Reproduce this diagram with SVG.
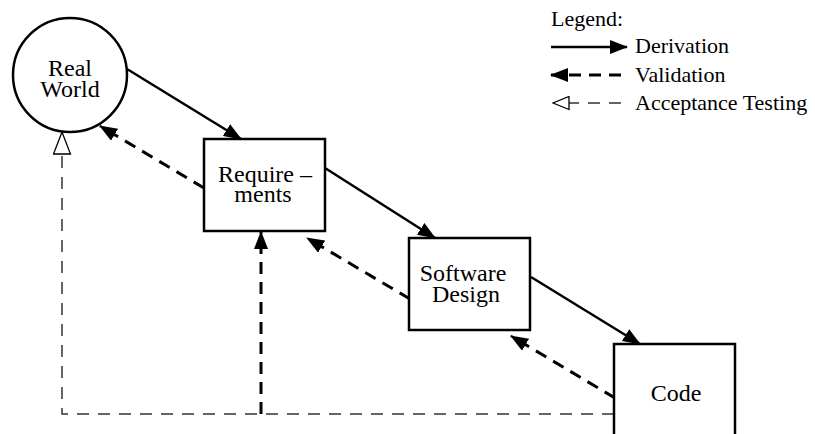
<svg xmlns="http://www.w3.org/2000/svg" width="815" height="434" viewBox="0 0 815 434">
<style>
  .node { fill: #fff; stroke: #000; stroke-width: 2.5; }
  .lbl { font-family: "Liberation Serif", "Times New Roman", serif; font-size: 24px; fill: #000; text-anchor: middle; }
  .leg { font-family: "Liberation Serif", "Times New Roman", serif; font-size: 22px; fill: #000; }
  .deriv { fill: none; stroke: #000; stroke-width: 2.5; }
  .valid { fill: none; stroke: #000; stroke-width: 3; stroke-dasharray: 12 8; }
  .accept { fill: none; stroke: #333; stroke-width: 1.5; stroke-dasharray: 12 9; }
</style>
<defs>
  <marker id="head" viewBox="0 0 18 14" refX="17" refY="7" markerWidth="18" markerHeight="14" markerUnits="userSpaceOnUse" orient="auto">
    <path d="M0,0 L18,7 L0,14 z" fill="#000"/>
  </marker>
  <marker id="open" viewBox="0 0 24 19" refX="23" refY="9.5" markerWidth="24" markerHeight="19" markerUnits="userSpaceOnUse" orient="auto">
    <path d="M1,1 L23,9.5 L1,18 z" fill="#fff" stroke="#000" stroke-width="1.3"/>
  </marker>
  <marker id="open-small" viewBox="0 0 18 15" refX="17" refY="7.5" markerWidth="18" markerHeight="15" markerUnits="userSpaceOnUse" orient="auto">
    <path d="M1,1 L17,7.5 L1,14 z" fill="#fff" stroke="#000" stroke-width="1.3"/>
  </marker>
</defs>

<g id="connectors">
  <line class="deriv" x1="127" y1="69" x2="241" y2="139" marker-end="url(#head)"/>
  <line class="deriv" x1="325" y1="168" x2="435" y2="238" marker-end="url(#head)"/>
  <line class="deriv" x1="531" y1="277" x2="640" y2="344" marker-end="url(#head)"/>
  <line class="valid" x1="204" y1="188" x2="100" y2="126" marker-end="url(#head)"/>
  <line class="valid" x1="410" y1="299" x2="307" y2="238" marker-end="url(#head)"/>
  <line class="valid" x1="615" y1="398" x2="511" y2="336" marker-end="url(#head)"/>
  <line class="valid" x1="261" y1="414" x2="261" y2="232" marker-end="url(#head)"/>
  <path class="accept" d="M614,414 H62 V132" marker-end="url(#open)"/>
</g>

<g id="real-world">
  <circle class="node" cx="70" cy="75" r="57"/>
  <text class="lbl"><tspan x="70" y="76">Real</tspan><tspan x="70" y="97">World</tspan></text>
</g>

<g id="requirements">
  <rect class="node" x="204" y="139" width="121" height="92"/>
  <text class="lbl"><tspan x="265" y="182">Require –</tspan><tspan x="263" y="202">ments</tspan></text>
</g>

<g id="software-design">
  <rect class="node" x="409" y="238" width="121" height="92"/>
  <text class="lbl"><tspan x="463" y="281">Software</tspan><tspan x="466" y="302">Design</tspan></text>
</g>

<g id="code">
  <rect class="node" x="614" y="344" width="121" height="100"/>
  <text class="lbl" x="676" y="401">Code</text>
</g>

<g id="legend">
  <text class="leg" x="551" y="26">Legend:</text>
  <line class="deriv" x1="551" y1="47" x2="627" y2="47" marker-end="url(#head)"/>
  <text class="leg" x="635" y="53">Derivation</text>
  <line class="valid" x1="621" y1="75" x2="551" y2="75" marker-end="url(#head)"/>
  <text class="leg" x="635" y="82">Validation</text>
  <line class="accept" x1="621" y1="103" x2="553" y2="103" marker-end="url(#open-small)"/>
  <text class="leg" x="635" y="110">Acceptance Testing</text>
</g>
</svg>
